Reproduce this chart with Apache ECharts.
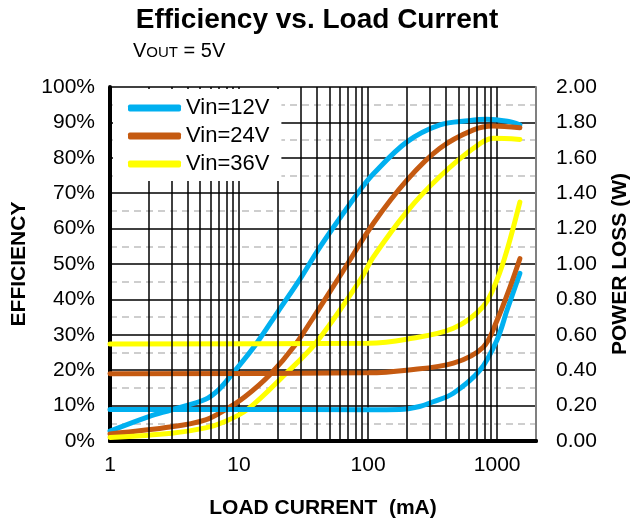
<!DOCTYPE html>
<html>
<head>
<meta charset="utf-8">
<script src="https://cdn.jsdelivr.net/npm/echarts@6/dist/echarts.min.js"></script>
<style>html,body{margin:0;padding:0;background:#fff}#c{width:642px;height:525px}</style>
</head>
<body>
<div id="c"></div>
<script>
// Series names
const seriesNames = ['Vin=12V', 'Vin=24V', 'Vin=36V'];
const seriesColors = ['#00B0F0', '#C55A11', '#FFFF00'];

// Efficiency (%) vs load current (mA)
const eff12X = [1, 2, 3, 5.5, 7, 8.8, 13.3, 20, 30, 41, 60, 87, 110, 200, 360, 600, 830, 1200, 1500];
const eff12Y = [2.8, 6.9, 8.8, 11.8, 14.6, 18.8, 27, 36.5, 46, 54, 62.8, 71, 75.5, 84.5, 89.3, 90.5, 90.9, 90.3, 89.3];
const eff24X = [1, 3, 5.5, 7.8, 11.1, 17.4, 27, 41, 60, 110, 200, 360, 655, 934, 1500];
const eff24Y = [2, 4, 6, 8.8, 12.5, 18.8, 27, 37, 46.4, 61.5, 73.7, 82.7, 87.9, 89, 88.5];
const eff36X = [1, 3, 5.5, 7.8, 11.7, 22.7, 40, 87, 110, 200, 360, 655, 934, 1500];
const eff36Y = [1, 2.2, 3.7, 5.5, 9, 18.8, 28, 45.5, 52, 64.8, 74.7, 82.7, 85.5, 85.2];

// Power loss (W) vs load current (mA)
const loss12X = [1, 10, 100, 176, 250, 320, 458, 736, 996, 1194, 1500];
const loss12Y = [0.178, 0.178, 0.177, 0.178, 0.195, 0.222, 0.27, 0.40, 0.57, 0.74, 0.947];
const loss24X = [1, 100, 199, 458, 780, 996, 1258, 1500];
const loss24Y = [0.38, 0.385, 0.40, 0.44, 0.53, 0.68, 0.87, 1.03];
const loss36X = [1, 100, 199, 458, 780, 996, 1194, 1500];
const loss36Y = [0.548, 0.552, 0.575, 0.637, 0.76, 0.91, 1.08, 1.35];

// Axis ticks
const xMin = 1, xMax = 2000;
const minorGridX = [2,3,4,5,6,7,8,9,20,30,40,50,60,70,80,90,200,300,400,500,600,700,800,900];

const zip = (xs, ys) => xs.map((x, i) => [x, ys[i]]);
const effData = [zip(eff12X, eff12Y), zip(eff24X, eff24Y), zip(eff36X, eff36Y)];
const lossData = [zip(loss12X, loss12Y), zip(loss24X, loss24Y), zip(loss36X, loss36Y)];

const FONT = 'Liberation Sans, Arial, sans-serif';
const chart = echarts.init(document.getElementById('c'), null, {renderer: 'canvas'});

const series = [];
series.push({
  type: 'line', xAxisIndex: 0, yAxisIndex: 0, data: [], silent: true, z: 1,
  markLine: {
    silent: true, symbol: 'none', animation: false,
    label: {show: false},
    lineStyle: {color: '#000', width: 1.5, type: 'solid'},
    data: minorGridX.map(v => ({xAxis: v}))
  }
});
for (let i = 0; i < 3; i++) {
  series.push({
    name: seriesNames[i], type: 'line', xAxisIndex: 0, yAxisIndex: 0,
    data: effData[i], smooth: 0.35, showSymbol: false, z: 3,
    lineStyle: {color: seriesColors[i], width: 5, cap: 'round'},
    itemStyle: {color: seriesColors[i]}
  });
}
for (let i = 0; i < 3; i++) {
  series.push({
    name: seriesNames[i], type: 'line', xAxisIndex: 0, yAxisIndex: 1,
    data: lossData[i], smooth: 0.35, showSymbol: false, z: 3,
    lineStyle: {color: seriesColors[i], width: 5, cap: 'round'},
    itemStyle: {color: seriesColors[i]}
  });
}

chart.setOption({
  animation: false,
  backgroundColor: '#fff',
  textStyle: {fontFamily: FONT},
  title: [
    {text: 'Efficiency vs. Load Current', left: 312, top: 1, textAlign: 'center',
     textStyle: {fontFamily: FONT, fontSize: 28, fontWeight: 'bold', color: '#000'}},
    {text: '{a|V}{b|OUT}{a| = 5V}', left: 128, top: 36,
     textStyle: {fontWeight: 'normal', rich: {
       a: {fontFamily: FONT, fontSize: 20, fontWeight: 'normal', color: '#000'},
       b: {fontFamily: FONT, fontSize: 15, fontWeight: 'normal', color: '#000', verticalAlign: 'bottom', padding: [0,0,1,0]}
     }}}
  ],
  legend: {
    data: seriesNames, orient: 'vertical', left: 113, top: 89,
    padding: [8, 12, 6, 15], itemGap: 6, itemWidth: 53, itemHeight: 7,
    icon: 'roundRect', backgroundColor: '#fff',
    textStyle: {fontFamily: FONT, fontSize: 22, color: '#000'},
    z: 10
  },
  grid: {left: 110, right: 106, top: 87, bottom: 84, containLabel: false},
  xAxis: [
    {type: 'log', logBase: 10, min: xMin, max: xMax, position: 'bottom',
     name: 'LOAD CURRENT  (mA)', nameLocation: 'middle', nameGap: 57,
     nameTextStyle: {fontFamily: FONT, fontSize: 21, fontWeight: 'bold', color: '#000'},
     axisLine: {show: true, lineStyle: {color: '#000', width: 4}},
     axisTick: {show: false},
     axisLabel: {fontFamily: FONT, fontSize: 21, color: '#000', margin: 14,
       formatter: v => { const l = Math.log10(v); return Math.abs(l - Math.round(l)) < 1e-6 ? String(Math.round(v)) : ''; }},
     splitLine: {show: true, lineStyle: {color: '#000', width: 1.5, type: 'solid'}}
    },
    {type: 'log', logBase: 10, min: xMin, max: xMax, position: 'top',
     axisLine: {show: true, lineStyle: {color: '#000', width: 4}},
     axisTick: {show: false}, axisLabel: {show: false}, splitLine: {show: false}
    }
  ],
  yAxis: [
    {type: 'value', min: 0, max: 100, interval: 10, position: 'left',
     name: 'EFFICIENCY', nameLocation: 'middle', nameGap: 80, nameRotate: 90,
     nameTextStyle: {fontFamily: FONT, fontSize: 21, fontWeight: 'bold', color: '#000'},
     axisLine: {show: true, lineStyle: {color: '#000', width: 4}},
     axisTick: {show: false},
     axisLabel: {fontFamily: FONT, fontSize: 21, color: '#000', margin: 15, formatter: '{value}%'},
     splitLine: {show: true, lineStyle: {color: '#000', width: 1.5}},
     minorTick: {show: false, splitNumber: 2},
     minorSplitLine: {show: true, lineStyle: {color: '#BFBFBF', width: 1.5, type: [7, 5]}}
    },
    {type: 'value', min: 0, max: 2, interval: 0.2, position: 'right',
     name: 'POWER LOSS (W)', nameLocation: 'middle', nameGap: 74, nameRotate: 90,
     nameTextStyle: {fontFamily: FONT, fontSize: 21, fontWeight: 'bold', color: '#000'},
     axisLine: {show: true, lineStyle: {color: '#808080', width: 2}},
     axisTick: {show: false},
     axisLabel: {fontFamily: FONT, fontSize: 21, color: '#000', margin: 20, formatter: v => v.toFixed(2)},
     splitLine: {show: false}
    }
  ],
  series: series
});
</script>
</body>
</html>
